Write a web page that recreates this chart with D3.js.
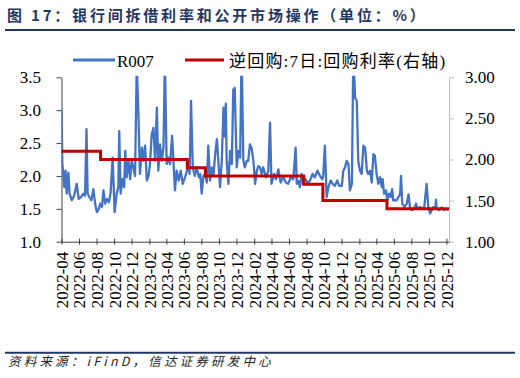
<!DOCTYPE html>
<html><head><meta charset="utf-8">
<script src="https://cdn.jsdelivr.net/npm/d3@7"></script>
<style>body{margin:0;background:#fff;} svg{display:block;}</style>
</head><body><svg id="c" width="520" height="378"></svg>
<script>
const r007Dates = [
"2022-04-01","2022-04-04","2022-04-11","2022-04-15","2022-04-19","2022-04-25","2022-04-29","2022-05-07","2022-05-15","2022-05-24",
"2022-05-31","2022-06-08","2022-06-16","2022-06-22","2022-06-27","2022-07-01","2022-07-07","2022-07-14","2022-07-21","2022-07-27",
"2022-08-02","2022-08-09","2022-08-14","2022-08-20","2022-08-25","2022-08-31","2022-09-06","2022-09-13","2022-09-19","2022-09-26",
"2022-10-03","2022-10-10","2022-10-16","2022-10-19","2022-10-24","2022-10-30","2022-11-05","2022-11-09","2022-11-14","2022-11-20",
"2022-11-26","2022-12-01","2022-12-07","2022-12-13","2022-12-19","2022-12-25","2022-12-30","2023-01-06","2023-01-11","2023-01-17",
"2023-01-23","2023-01-29","2023-02-03","2023-02-09","2023-02-15","2023-02-21","2023-02-27","2023-03-04","2023-03-10","2023-03-16",
"2023-03-22","2023-03-27","2023-04-02","2023-04-08","2023-04-14","2023-04-21","2023-04-25","2023-05-01","2023-05-07","2023-05-14",
"2023-05-21","2023-05-28","2023-06-05","2023-06-12","2023-06-18","2023-06-21","2023-06-26","2023-07-02","2023-07-09","2023-07-16",
"2023-07-23","2023-07-28","2023-08-02","2023-08-08","2023-08-14","2023-08-20","2023-08-25","2023-08-31","2023-09-06","2023-09-12",
"2023-09-18","2023-09-24","2023-09-29","2023-10-05","2023-10-11","2023-10-17","2023-10-21","2023-10-25","2023-10-28","2023-11-03",
"2023-11-09","2023-11-15","2023-11-20","2023-11-25","2023-12-02","2023-12-08","2023-12-14","2023-12-19","2023-12-25","2023-12-30",
"2024-01-06","2024-01-11","2024-01-17","2024-01-23","2024-01-29","2024-02-04","2024-02-10","2024-02-15","2024-02-21","2024-02-27",
"2024-03-03","2024-03-13","2024-03-21","2024-03-27","2024-04-01","2024-04-10","2024-04-17","2024-04-25","2024-05-03","2024-05-12",
"2024-05-21","2024-05-29","2024-06-07","2024-06-16","2024-06-24","2024-06-28","2024-07-03","2024-07-09","2024-07-15","2024-07-21",
"2024-07-29","2024-08-07","2024-08-15","2024-08-22","2024-08-30","2024-09-08","2024-09-17","2024-09-25","2024-09-28","2024-10-04",
"2024-10-10","2024-10-16","2024-10-24","2024-10-31","2024-11-08","2024-11-16","2024-11-23","2024-12-02","2024-12-07","2024-12-13",
"2024-12-19","2024-12-25","2024-12-30","2025-01-06","2025-01-11","2025-01-17","2025-01-23","2025-01-28","2025-02-03","2025-02-09",
"2025-02-15","2025-02-21","2025-02-27","2025-03-04","2025-03-10","2025-03-16","2025-03-22","2025-03-27","2025-04-02","2025-04-08",
"2025-04-14","2025-04-20","2025-04-23","2025-04-28","2025-05-05","2025-05-09","2025-05-15","2025-05-21","2025-05-26","2025-05-30",
"2025-06-05","2025-06-11","2025-06-17","2025-06-23","2025-06-26","2025-06-30","2025-07-08","2025-07-16","2025-07-22","2025-07-27",
"2025-08-02","2025-08-10","2025-08-17","2025-08-23","2025-08-31","2025-09-08","2025-09-15","2025-09-23","2025-09-29","2025-10-05",
"2025-10-11","2025-10-17","2025-10-23","2025-10-26","2025-10-28","2025-11-06","2025-11-15","2025-11-23","2025-12-02","2025-12-08"
];
const r007Values = [
3.00,2.18,1.83,2.08,1.73,2.05,1.73,1.63,1.70,1.88,
1.65,1.68,1.73,1.70,2.71,1.73,1.68,1.63,1.80,1.58,
1.45,1.50,1.58,1.53,1.78,1.58,1.65,1.60,1.75,2.28,
1.45,1.73,1.83,2.68,1.73,1.95,1.83,2.38,1.98,2.23,
1.95,2.23,2.13,2.00,3.70,2.90,2.03,2.43,2.23,2.46,
1.93,2.00,2.18,2.63,2.73,2.23,3.04,2.08,2.48,2.23,
2.43,3.80,2.18,2.28,2.18,2.61,2.28,1.78,2.08,1.93,
2.08,1.88,1.98,2.08,2.23,2.03,3.14,2.13,2.00,2.13,
1.98,2.03,1.73,2.00,2.03,1.90,2.46,1.93,2.13,2.00,
2.33,2.56,2.23,1.83,2.23,3.04,2.60,3.10,2.23,1.88,
2.38,2.18,3.31,3.34,2.13,2.38,2.28,3.90,2.24,2.13,
2.23,2.23,2.48,2.42,2.23,1.88,2.08,2.15,2.13,2.03,
2.13,1.98,2.08,2.81,1.88,2.03,1.95,2.10,1.90,1.98,
1.90,1.88,1.98,1.95,2.43,1.88,1.93,1.83,2.03,1.88,
1.95,1.88,1.95,2.03,1.98,2.08,2.00,1.95,2.00,2.46,
1.68,1.83,1.93,1.88,1.85,1.93,1.85,1.85,2.08,2.13,
2.23,2.18,1.78,1.88,3.90,3.19,3.14,2.23,2.08,2.03,
2.46,2.43,2.08,2.03,2.08,1.90,2.33,2.31,2.03,1.88,
1.98,1.83,1.95,1.73,1.78,1.63,1.73,1.68,1.80,1.63,
1.63,1.63,1.68,1.73,2.00,1.58,1.53,1.58,1.72,1.53,
1.48,1.50,1.58,1.50,1.53,1.50,1.53,1.88,1.53,1.43,
1.48,1.53,1.50,1.64,1.50,1.48,1.52,1.48,1.50,1.48
];
const repoDates = ["2022-04-01","2022-08-15","2023-06-13","2023-08-15","2024-07-22","2024-09-27","2025-05-08","2025-12-10"];
const repoValues = [2.10,2.00,1.90,1.80,1.70,1.50,1.40,1.40];
const leftTicks = [1.0,1.5,2.0,2.5,3.0,3.5];
const rightTicks = [1.00,1.50,2.00,2.50,3.00];
const xTickLabels = ["2022-04","2022-06","2022-08","2022-10","2022-12","2023-02","2023-04","2023-06","2023-08","2023-10","2023-12",
"2024-02","2024-04","2024-06","2024-08","2024-10","2024-12","2025-02","2025-04","2025-06","2025-08","2025-10","2025-12"];
const seriesNames = ["R007","逆回购:7日:回购利率(右轴)"];
const titleText = "图 17：银行间拆借利率和公开市场操作（单位：%）";
const sourceText = "资料来源：iFinD，信达证券研发中心";

const parse = d3.timeParse("%Y-%m-%d");
const parseM = d3.timeParse("%Y-%m");
const svg = d3.select("#c");
const navy = "#1f3864";
const blue = "#4472c4", red = "#c00000";
const serif = "'Liberation Serif','Times New Roman',serif";
const cjk = "'Noto Sans CJK SC','Noto Sans',sans-serif";

const L = 61.5, R = 449, T = 77.3, B = 241.7;
const x = d3.scaleTime().domain([parse("2022-04-01"), parse("2025-12-10")]).range([L, R]);
const yL = d3.scaleLinear().domain([1, 3.5]).range([B, T]);
const yR = d3.scaleLinear().domain([1, 3]).range([B, T]);

// title
svg.append("text").attr("x", 7).attr("y", 21).attr("fill", navy)
  .style("font-family", cjk).style("font-weight", "bold").style("font-size", "15px")
  .style("letter-spacing", "2.8px").text(titleText);
svg.append("line").attr("x1", 5).attr("x2", 515).attr("y1", 30).attr("y2", 30)
  .attr("stroke", navy).attr("stroke-width", 2);
svg.append("line").attr("x1", 5).attr("x2", 515).attr("y1", 352.7).attr("y2", 352.7)
  .attr("stroke", navy).attr("stroke-width", 2);
svg.append("text").attr("x", 8).attr("y", 366).attr("fill", "#222")
  .style("font-family", cjk).style("font-style", "italic").style("font-size", "12.5px")
  .style("letter-spacing", "3.2px").text(sourceText);

// legend
const lg = svg.append("g");
lg.append("line").attr("x1", 73).attr("x2", 115).attr("y1", 60).attr("y2", 60).attr("stroke", blue).attr("stroke-width", 3);
lg.append("text").attr("x", 117).attr("y", 66.5).style("font-family", serif).style("font-size", "17px").text(seriesNames[0]);
lg.append("line").attr("x1", 185).attr("x2", 224).attr("y1", 60).attr("y2", 60).attr("stroke", red).attr("stroke-width", 3);
lg.append("text").attr("x", 229).attr("y", 66.5).style("font-family", serif + "," + cjk).style("font-size", "17px")
  .style("letter-spacing", "1.2px").text(seriesNames[1]);

// clip
svg.append("clipPath").attr("id", "clip").append("rect").attr("x", L).attr("y", T - 1.5).attr("width", R - L).attr("height", B - T + 1.5);

// left axis
const gL = svg.append("g").attr("transform", `translate(${L},0)`)
  .call(d3.axisLeft(yL).tickValues(leftTicks).tickFormat(d3.format(".1f")).tickSize(5).tickSizeOuter(0).tickPadding(15.5));
gL.selectAll("path,line").attr("stroke", "#404040");
gL.selectAll("text").style("font-family", serif).style("font-size", "17px").attr("fill", "#000");

// right axis
const gR = svg.append("g").attr("transform", `translate(${R},0)`)
  .call(d3.axisRight(yR).tickValues(rightTicks).tickFormat(d3.format(".2f")).tickSize(5).tickSizeOuter(0).tickPadding(11));
gR.selectAll("path,line").attr("stroke", "#bfbfbf");
gR.selectAll("text").style("font-family", serif).style("font-size", "17px").attr("fill", "#000");

// x axis
const xTicks = xTickLabels.map(parseM);
const gX = svg.append("g").attr("transform", `translate(0,${B})`)
  .call(d3.axisBottom(x).tickValues(xTicks).tickFormat(d3.timeFormat("%Y-%m")).tickSize(3).tickSizeOuter(0).tickPadding(10));
gX.selectAll("path,line").attr("stroke", "#404040");
gX.selectAll(".tick line").attr("y1", -3).attr("y2", 3);
gX.selectAll("text").style("font-family", serif).style("font-size", "17px").attr("fill", "#000")
  .attr("text-anchor", "end").attr("dy", "0.35em").attr("y", 0)
  .attr("transform", "translate(0,10) rotate(-90)");

// R007 line
const r007 = r007Dates.map((d, i) => ({d: parse(d), v: r007Values[i]}));
svg.append("path").datum(r007).attr("clip-path", "url(#clip)")
  .attr("fill", "none").attr("stroke", blue).attr("stroke-width", 2.3).attr("stroke-linejoin", "round")
  .attr("d", d3.line().x(p => x(p.d)).y(p => yL(p.v)));

// repo step line
const repo = repoDates.map((d, i) => ({d: parse(d), v: repoValues[i]}));
svg.append("path").datum(repo)
  .attr("fill", "none").attr("stroke", red).attr("stroke-width", 3)
  .attr("d", d3.line().curve(d3.curveStepAfter).x(p => x(p.d)).y(p => yR(p.v)));
</script></body></html>
